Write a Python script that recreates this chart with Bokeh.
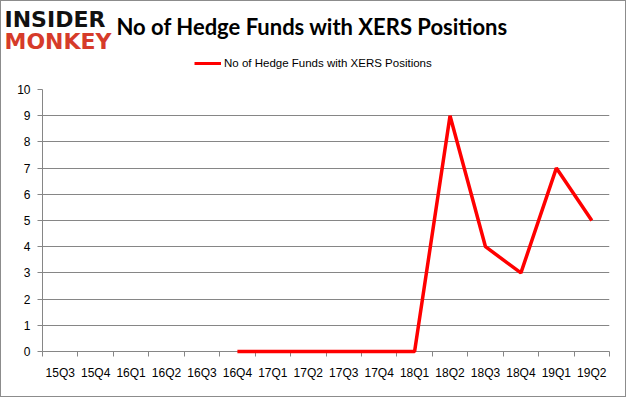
from bokeh.plotting import figure
from bokeh.layouts import column, row
from bokeh.models import (FixedTicker, Label, Legend, LegendItem, ColumnDataSource, Range1d,
                          InlineStyleSheet)
from bokeh.embed import file_html
from bokeh.resources import INLINE

quarters = ["15Q3", "15Q4", "16Q1", "16Q2", "16Q3", "16Q4", "17Q1", "17Q2",
            "17Q3", "17Q4", "18Q1", "18Q2", "18Q3", "18Q4", "19Q1", "19Q2"]
# values from 16Q4 onward (earlier quarters have no data)
data_quarters = ["16Q4", "17Q1", "17Q2", "17Q3", "17Q4", "18Q1", "18Q2", "18Q3", "18Q4", "19Q1", "19Q2"]
hedge_funds = [0, 0, 0, 0, 0, 0, 9, 4, 3, 7, 5]
y_ticks = list(range(0, 11))
series_name = "No of Hedge Funds with XERS Positions"
title_text = "No of Hedge Funds with XERS Positions"

FONT = "Liberation Sans"
RED = "#ff0000"
GRAY = "#868686"
W = 624
TOP_H = 83

# ---------- header figure (title, logo, legend) ----------
t = figure(width=W, height=TOP_H, output_backend="svg", toolbar_location=None,
           x_range=Range1d(0, W), y_range=Range1d(0, TOP_H),
           x_axis_location=None, y_axis_location=None,
           min_border=0, outline_line_color=None)
t.grid.visible = False
# legend-only renderer (no visible data in the header)
dummy = t.line(x=[float("nan")], y=[float("nan")], line_color=RED, line_width=3)

t.add_layout(Label(x=3, y=65, text="INSIDER", text_font="DejaVu Sans",
                   text_font_style="bold", text_font_size="22px",
                   text_baseline="middle", text_color="#111111"))
t.add_layout(Label(x=3, y=43, text="MONKEY", text_font="DejaVu Sans",
                   text_font_style="bold", text_font_size="22px",
                   text_baseline="middle", text_color="#d63b2a"))
t.add_layout(Label(x=115, y=58, text=title_text, text_font="Lato",
                   text_font_style="bold", text_font_size="22px",
                   text_baseline="middle", text_color="#000000"))

legend = Legend(items=[LegendItem(label=series_name, renderers=[dummy])],
                location=(193, 11), orientation="horizontal",
                border_line_color=None, background_fill_alpha=0,
                label_text_font=FONT, label_text_font_size="11.5px",
                label_text_color="#000000",
                glyph_width=27, glyph_height=20, label_standoff=3,
                padding=0, margin=0, spacing=0)
t.add_layout(legend, "center")

# ---------- chart figure ----------
xpos = [quarters.index(q) + 0.5 for q in data_quarters]
src = ColumnDataSource(dict(x=xpos, y=hedge_funds))

p = figure(width=W, height=312, output_backend="svg", toolbar_location=None,
           x_range=Range1d(0, len(quarters)), y_range=Range1d(0, 10))
p.min_border_left = 41
p.min_border_right = 16
p.min_border_top = 5
p.min_border_bottom = 45
p.outline_line_color = None

r = p.line("x", "y", source=src, line_color=RED, line_width=3.5)
r.level = "overlay"

xa = p.xaxis[0]
xa.ticker = FixedTicker(ticks=[i + 0.5 for i in range(len(quarters))],
                        minor_ticks=list(range(len(quarters) + 1)))
xa.major_label_overrides = {i + 0.5: q for i, q in enumerate(quarters)}
xa.major_tick_out = 0
xa.major_tick_in = 0
xa.minor_tick_out = 5
xa.minor_tick_in = 0
xa.minor_tick_line_color = GRAY
xa.axis_line_color = GRAY
xa.major_label_standoff = 9
xa.major_label_text_font = FONT
xa.major_label_text_font_size = "12px"
xa.major_label_text_color = "#000000"

ya = p.yaxis[0]
ya.ticker = FixedTicker(ticks=y_ticks)
ya.major_tick_out = 5
ya.major_tick_in = 0
ya.minor_tick_out = 0
ya.minor_tick_in = 0
ya.major_tick_line_color = GRAY
ya.axis_line_color = GRAY
ya.major_label_standoff = 7
ya.major_label_text_font = FONT
ya.major_label_text_font_size = "12px"
ya.major_label_text_color = "#000000"

p.xgrid.grid_line_color = None
p.ygrid.grid_line_color = GRAY
p.ygrid.grid_line_width = 1
p.ygrid.ticker = FixedTicker(ticks=y_ticks)

border_css = InlineStyleSheet(css=":host { border: 1px solid #8c8c8c; background: white; }")
layout = column(row(t), row(p), spacing=0, stylesheets=[border_css])

open("out.html", "w").write(file_html(layout, INLINE))
